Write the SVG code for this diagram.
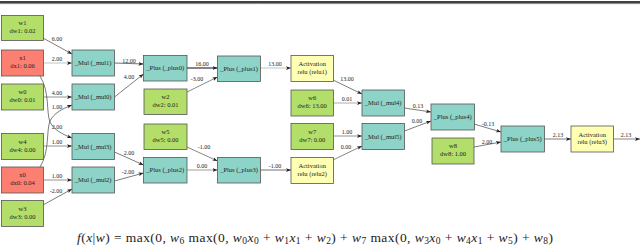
<svg xmlns="http://www.w3.org/2000/svg" width="640" height="247" viewBox="0 0 640 247">
<style>
.n rect{stroke:#555;stroke-width:0.8}
.g rect{fill:#b3de69}
.r rect{fill:#fb8072}
.t rect{fill:#8dd3c7}
.y rect{fill:#ffffb3}
text{font-family:"Liberation Serif","Times New Roman",serif;fill:#222}
.n text{font-size:6.5px;text-anchor:middle}
.lbl{font-size:6px;text-anchor:middle}
.e path{fill:none;stroke:#555;stroke-width:0.7}
.fm{font-size:13.5px}
.fm .i{font-style:italic}
.fm .s{font-size:9.5px}
</style>
<defs>
<marker id="a" viewBox="0 0 8 6" refX="8" refY="3" markerWidth="5" markerHeight="4" markerUnits="userSpaceOnUse" orient="auto">
<path d="M0,0 L8,3 L0,6 L2,3 z" fill="#222"/>
</marker>
</defs>
<line x1="0" y1="2" x2="640" y2="2" stroke="#000" stroke-width="1.4"/>
<line x1="0" y1="3.6" x2="640" y2="3.6" stroke="#000" stroke-width="0.5"/>

<g id="connectors" class="e">
<path d="M43,38 L72,54" marker-end="url(#a)" style="stroke:#444"/>
<path d="M43.5,63 L72,63" marker-end="url(#a)" style="stroke:#aaa"/>
<path d="M43.5,97 L72,97" marker-end="url(#a)" style="stroke:#666"/>
<path d="M40,76 C50,92 46,112 50,122 C54,130 62,134 72,138" marker-end="url(#a)" style="stroke:#444"/>
<path d="M40,167 C50,151 46,131 50,121 C54,113 62,109 72,105" marker-end="url(#a)" style="stroke:#444"/>
<path d="M43.5,146 L72,146" marker-end="url(#a)" style="stroke:#666"/>
<path d="M43.5,180 L72,180" marker-end="url(#a)" style="stroke:#666"/>
<path d="M43,205 L72,189" marker-end="url(#a)" style="stroke:#444"/>
<path d="M114.5,63 L143.5,64" marker-end="url(#a)" style="stroke:#333"/>
<path d="M114.5,97 L143.5,74" marker-end="url(#a)" style="stroke:#444"/>
<path d="M114.5,152 L143.5,165" marker-end="url(#a)" style="stroke:#444"/>
<path d="M114.5,181 L143.5,173" marker-end="url(#a)" style="stroke:#444"/>
<path d="M187,68 L217.5,68" marker-end="url(#a)" style="stroke:#222;stroke-width:1.1"/>
<path d="M187,92 L217.5,77" marker-end="url(#a)" style="stroke:#555"/>
<path d="M187,147 L217.5,161" marker-end="url(#a)" style="stroke:#555"/>
<path d="M187,170 L217.5,170" marker-end="url(#a)" style="stroke:#777"/>
<path d="M260,68 L291,68" marker-end="url(#a)" style="stroke:#aaa"/>
<path d="M260,170 L291,170" marker-end="url(#a)" style="stroke:#333"/>
<path d="M333,80 L362,94" marker-end="url(#a)" style="stroke:#444"/>
<path d="M333.5,103 L362,103" marker-end="url(#a)" style="stroke:#888"/>
<path d="M333.5,136 L362,136" marker-end="url(#a)" style="stroke:#666"/>
<path d="M333,160 L362,146" marker-end="url(#a)" style="stroke:#555"/>
<path d="M404.5,108 L431,112" marker-end="url(#a)" style="stroke:#444"/>
<path d="M404.5,131 L431,121" marker-end="url(#a)" style="stroke:#444"/>
<path d="M474,124 L501,132" marker-end="url(#a)" style="stroke:#444"/>
<path d="M474,147 L501,142" marker-end="url(#a)" style="stroke:#444"/>
<path d="M544,139 L571,139" marker-end="url(#a)" style="stroke:#444"/>
<path d="M613.5,139 L640,139" marker-end="url(#a)" style="stroke:#555"/>
<text class="lbl" x="57" y="41">6.00</text>
<text class="lbl" x="57" y="61">2.00</text>
<text class="lbl" x="57" y="95">4.00</text>
<text class="lbl" x="57" y="109">1.00</text>
<text class="lbl" x="57" y="129">2.00</text>
<text class="lbl" x="57" y="144">1.00</text>
<text class="lbl" x="57" y="178">1.00</text>
<text class="lbl" x="56" y="193">-2.00</text>
<text class="lbl" x="129" y="63">12.00</text>
<text class="lbl" x="129" y="79">4.00</text>
<text class="lbl" x="129" y="155">2.00</text>
<text class="lbl" x="128" y="174">-2.00</text>
<text class="lbl" x="202" y="66">16.00</text>
<text class="lbl" x="197" y="81">-3.00</text>
<text class="lbl" x="204" y="149">-1.00</text>
<text class="lbl" x="202" y="168">0.00</text>
<text class="lbl" x="275" y="66">13.00</text>
<text class="lbl" x="275" y="168">-1.00</text>
<text class="lbl" x="347" y="81">13.00</text>
<text class="lbl" x="347" y="101">0.01</text>
<text class="lbl" x="347" y="134">1.00</text>
<text class="lbl" x="346" y="149">0.00</text>
<text class="lbl" x="418" y="108">0.13</text>
<text class="lbl" x="417" y="123">0.00</text>
<text class="lbl" x="488" y="126">-0.13</text>
<text class="lbl" x="487" y="144">2.00</text>
<text class="lbl" x="558" y="137">2.13</text>
<text class="lbl" x="626" y="137">2.13</text>
</g>

<g id="w1" class="n g"><rect x="1.5" y="15.5" width="42" height="25"/><text x="22.5" y="25">w1</text><text x="22.5" y="33">dw1: 0.02</text></g>
<g id="x1" class="n r"><rect x="1.5" y="50" width="42" height="26"/><text x="22.5" y="60">x1</text><text x="22.5" y="68">dx1: 0.06</text></g>
<g id="w0" class="n g"><rect x="1.5" y="84" width="42" height="26"/><text x="22.5" y="94">w0</text><text x="22.5" y="102">dw0: 0.01</text></g>
<g id="w4" class="n g"><rect x="1.5" y="133.5" width="42" height="26"/><text x="22.5" y="143.5">w4</text><text x="22.5" y="151.5">dw4: 0.00</text></g>
<g id="x0" class="n r"><rect x="1.5" y="167" width="42" height="26"/><text x="22.5" y="177">x0</text><text x="22.5" y="185">dx0: 0.04</text></g>
<g id="w3" class="n g"><rect x="1.5" y="200.5" width="42" height="26"/><text x="22.5" y="210.5">w3</text><text x="22.5" y="218.5">dw3: 0.00</text></g>

<g id="mul1" class="n t"><rect x="72" y="50" width="42.5" height="26"/><text x="93.2" y="65">_Mul (_mul1)</text></g>
<g id="mul0" class="n t"><rect x="72" y="84" width="42.5" height="26"/><text x="93.2" y="99">_Mul (_mul0)</text></g>
<g id="mul3" class="n t"><rect x="72" y="133.5" width="42.5" height="26"/><text x="93.2" y="148.5">_Mul (_mul3)</text></g>
<g id="mul2" class="n t"><rect x="72" y="167" width="42.5" height="26"/><text x="93.2" y="182">_Mul (_mul2)</text></g>

<g id="plus0" class="n t"><rect x="143.5" y="55.5" width="43.5" height="25.5"/><text x="165.2" y="70.3">_Plus (_plus0)</text></g>
<g id="w2" class="n g"><rect x="144" y="89" width="43" height="25.5"/><text x="165.5" y="99">w2</text><text x="165.5" y="107">dw2: 0.01</text></g>
<g id="w5" class="n g"><rect x="144" y="124" width="43" height="25.5"/><text x="165.5" y="134">w5</text><text x="165.5" y="142">dw5: 0.00</text></g>
<g id="plus2" class="n t"><rect x="143.5" y="157.5" width="43.5" height="25.5"/><text x="165.2" y="172.3">_Plus (_plus2)</text></g>

<g id="plus1" class="n t"><rect x="217.5" y="56" width="43" height="25.5"/><text x="239" y="70.8">_Plus (_plus1)</text></g>
<g id="plus3" class="n t"><rect x="217.5" y="157.5" width="43" height="25.5"/><text x="239" y="172.3">_Plus (_plus3)</text></g>

<g id="relu1" class="n y"><rect x="291" y="55.5" width="42.5" height="26"/><text x="312.2" y="66">Activation</text><text x="312.2" y="73.5">relu (relu1)</text></g>
<g id="w6" class="n g"><rect x="291" y="90" width="42.5" height="26"/><text x="312.2" y="100">w6</text><text x="312.2" y="108">dw6: 13.00</text></g>
<g id="w7" class="n g"><rect x="291" y="123.5" width="42.5" height="26"/><text x="312.2" y="133.5">w7</text><text x="312.2" y="141.5">dw7: 0.00</text></g>
<g id="relu2" class="n y"><rect x="291" y="157.5" width="42.5" height="26"/><text x="312.2" y="168">Activation</text><text x="312.2" y="175.5">relu (relu2)</text></g>

<g id="mul4" class="n t"><rect x="362" y="90" width="42.5" height="26"/><text x="383.2" y="105">_Mul (_mul4)</text></g>
<g id="mul5" class="n t"><rect x="362" y="123.5" width="42.5" height="26"/><text x="383.2" y="138.5">_Mul (_mul5)</text></g>

<g id="plus4" class="n t"><rect x="431" y="104" width="43.5" height="26"/><text x="452.7" y="119">_Plus (_plus4)</text></g>
<g id="w8" class="n g"><rect x="432" y="138" width="42" height="26"/><text x="453" y="148">w8</text><text x="453" y="156">dw8: 1.00</text></g>

<g id="plus5" class="n t"><rect x="501" y="126" width="43.5" height="26"/><text x="522.7" y="141">_Plus (_plus5)</text></g>
<g id="relu3" class="n y"><rect x="571" y="126" width="42.5" height="26"/><text x="592.2" y="136.5">Activation</text><text x="592.2" y="144">relu (relu3)</text></g>

<text class="fm" x="77" y="242" textLength="476" lengthAdjust="spacing"><tspan class="i">f</tspan>(<tspan class="i">x</tspan>|<tspan class="i">w</tspan>) = max(0, <tspan class="i">w</tspan><tspan class="s" dy="2">6</tspan><tspan dy="-2"> max(0, </tspan><tspan class="i">w</tspan><tspan class="s" dy="2">0</tspan><tspan class="i" dy="-2">x</tspan><tspan class="s" dy="2">0</tspan><tspan dy="-2"> + </tspan><tspan class="i">w</tspan><tspan class="s" dy="2">1</tspan><tspan class="i" dy="-2">x</tspan><tspan class="s" dy="2">1</tspan><tspan dy="-2"> + </tspan><tspan class="i">w</tspan><tspan class="s" dy="2">2</tspan><tspan dy="-2">) + </tspan><tspan class="i">w</tspan><tspan class="s" dy="2">7</tspan><tspan dy="-2"> max(0, </tspan><tspan class="i">w</tspan><tspan class="s" dy="2">3</tspan><tspan class="i" dy="-2">x</tspan><tspan class="s" dy="2">0</tspan><tspan dy="-2"> + </tspan><tspan class="i">w</tspan><tspan class="s" dy="2">4</tspan><tspan class="i" dy="-2">x</tspan><tspan class="s" dy="2">1</tspan><tspan dy="-2"> + </tspan><tspan class="i">w</tspan><tspan class="s" dy="2">5</tspan><tspan dy="-2">) + </tspan><tspan class="i">w</tspan><tspan class="s" dy="2">8</tspan><tspan dy="-2">)</tspan></text>
</svg>
